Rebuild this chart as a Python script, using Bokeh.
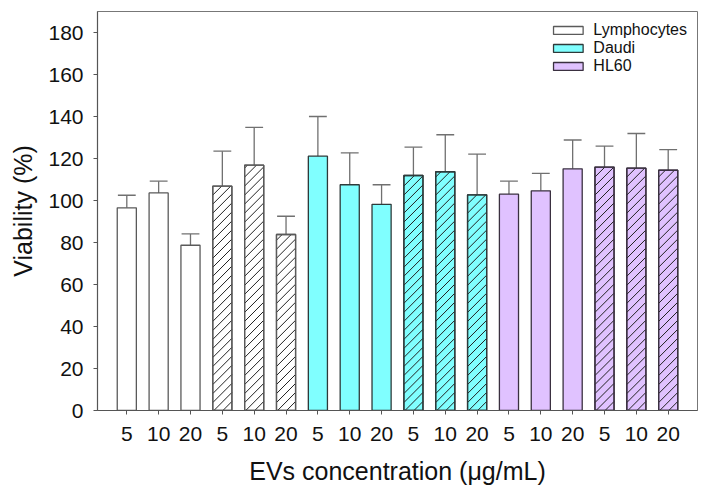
import numpy as np
from bokeh.plotting import figure
from bokeh.models import ColumnDataSource, FixedTicker, Legend, LegendItem, Range1d
from bokeh.embed import file_html
from bokeh.resources import INLINE

# ---- data ----
positions = list(range(1, 19))
tick_labels = ["5", "10", "20"] * 6
cell_lines = ["Lymphocytes"] * 6 + ["Daudi"] * 6 + ["HL60"] * 6
hatched = ([False] * 3 + [True] * 3) * 3
means = [96.5, 103.6, 78.7, 106.8, 116.8, 83.8,
         121.1, 107.5, 98.2, 111.9, 113.7, 102.7,
         103.0, 104.6, 115.1, 115.9, 115.4, 114.4]
sds = [6.0, 5.6, 5.4, 16.7, 18.0, 8.7,
       18.9, 15.2, 9.3, 13.5, 17.6, 19.4,
       6.2, 8.3, 13.7, 10.0, 16.5, 9.8]
y_ticks = [0, 20, 40, 60, 80, 100, 120, 140, 160, 180]

# ---- styles / layout ----
fills = {"Lymphocytes": "#ffffff", "Daudi": "#80ffff", "HL60": "#e0c2ff"}
outlines = {"Lymphocytes": "#5a5a5a", "Daudi": "#2e3a3a", "HL60": "#3a3040"}
FONT = "Liberation Sans"
BAR_W = 0.6
CAP_HALF = 0.28
X0, X1, Y0, Y1 = 0.08, 18.92, 0, 190
FRAME_W, FRAME_H = 600, 398
HATCH_PX = 9  # vertical spacing of hatch lines in pixels

p = figure(width=700, height=488, output_backend="svg", toolbar_location=None,
           x_range=Range1d(X0, X1), y_range=Range1d(Y0, Y1),
           min_border_left=97, min_border_right=3, min_border_top=11, min_border_bottom=78)
p.xgrid.grid_line_color = None
p.ygrid.grid_line_color = None
p.outline_line_color = "#777777"
p.outline_line_width = 1
p.background_fill_color = "white"
p.border_fill_color = "white"

# error bars (upper only)
tops = [m + s for m, s in zip(means, sds)]
err_src = ColumnDataSource(dict(
    x=positions, y0=means, y1=tops,
    cx0=[x - CAP_HALF for x in positions], cx1=[x + CAP_HALF for x in positions]))
p.segment(x0="x", y0="y0", x1="x", y1="y1", source=err_src, line_color="#707070", line_width=1.3)
p.segment(x0="cx0", y0="y1", x1="cx1", y1="y1", source=err_src, line_color="#707070", line_width=1.3)

# bars
legend_renderers = {}
for cell in ["Lymphocytes", "Daudi", "HL60"]:
    for h in [False, True]:
        idx = [i for i in range(18) if cell_lines[i] == cell and hatched[i] == h]
        src = ColumnDataSource(dict(x=[positions[i] for i in idx], top=[means[i] for i in idx]))
        r = p.vbar(x="x", top="top", bottom=0, width=BAR_W, source=src,
                   fill_color=fills[cell], line_color=outlines[cell], line_width=1.3)
        if not h:
            legend_renderers[cell] = r

# 45-degree hatching for the hatched bars (computed from bar positions and heights)
px_x = FRAME_W / (X1 - X0)
px_y = FRAME_H / (Y1 - Y0)
k = px_x / px_y          # data-y per data-x for a 45 degree line on screen
dy = HATCH_PX / px_y     # vertical spacing in data units
hx0, hy0, hx1, hy1 = [], [], [], []
for i in range(18):
    if not hatched[i]:
        continue
    xl, xr, T = positions[i] - BAR_W / 2, positions[i] + BAR_W / 2, means[i]
    for b in np.arange(-k * BAR_W, T, dy):
        sx = xl + max(0.0, -b / k)
        ex = xr - max(0.0, (b + k * BAR_W - T) / k)
        if ex - sx > 1e-6:
            hx0.append(sx); hy0.append(b + k * (sx - xl))
            hx1.append(ex); hy1.append(b + k * (ex - xl))
p.segment(x0=hx0, y0=hy0, x1=hx1, y1=hy1, line_color="#222222", line_width=1)

# redraw outlines of hatched bars on top
for cell in ["Lymphocytes", "Daudi", "HL60"]:
    idx = [i for i in range(18) if cell_lines[i] == cell and hatched[i]]
    p.vbar(x=[positions[i] for i in idx], top=[means[i] for i in idx], bottom=0, width=BAR_W,
           fill_color=None, line_color=outlines[cell], line_width=1.3)

legend = Legend(items=[LegendItem(label=c, renderers=[legend_renderers[c]])
                       for c in ["Lymphocytes", "Daudi", "HL60"]],
                location="top_right", border_line_alpha=0, background_fill_alpha=0,
                glyph_width=37, glyph_height=10, label_height=18, spacing=0,
                padding=0, margin=10, label_standoff=7,
                label_text_font=FONT, label_text_font_size="16px", label_text_color="#111111")
p.add_layout(legend)

# axes
p.xaxis.ticker = FixedTicker(ticks=positions)
p.xaxis.major_label_overrides = {pos: lab for pos, lab in zip(positions, tick_labels)}
p.yaxis.ticker = FixedTicker(ticks=y_ticks)
for ax in (p.xaxis[0], p.yaxis[0]):
    ax.axis_line_color = "#555555"
    ax.axis_line_width = 1.2
    ax.major_tick_line_color = "#555555"
    ax.major_tick_out = 4
    ax.major_tick_in = 0
    ax.minor_tick_line_color = None
    ax.major_label_text_font = FONT
    ax.major_label_text_font_size = "21px"
    ax.major_label_text_color = "#111111"
    ax.axis_label_text_font = FONT
    ax.axis_label_text_font_size = "25px"
    ax.axis_label_text_font_style = "normal"
    ax.axis_label_text_color = "#111111"

p.xaxis.axis_label = "EVs concentration (\u03bcg/mL)"
p.yaxis.axis_label = "Viability (%)"
p.xaxis.major_label_standoff = 12
p.xaxis.axis_label_standoff = 13
p.yaxis.major_label_standoff = 10
p.yaxis.axis_label_standoff = 8

open("out.html", "w").write(file_html(p, INLINE))
